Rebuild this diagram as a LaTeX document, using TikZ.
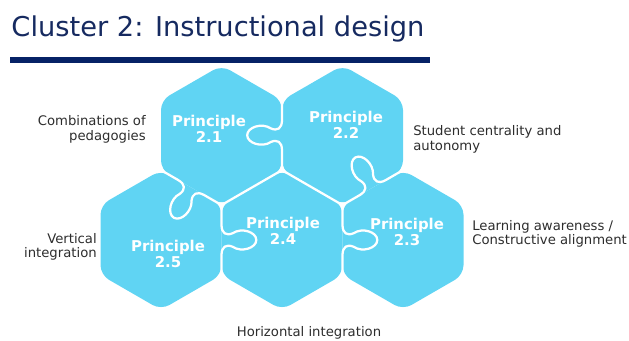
\documentclass[tikz,border=0pt]{standalone}
\usepackage{fontspec}
\setmainfont{DejaVu Sans}
\usetikzlibrary{calc}
\definecolor{titlenavy}{RGB}{22,42,96}
\definecolor{rulenavy}{RGB}{6,34,102}
\definecolor{puzzle}{RGB}{96,212,243}
\definecolor{labelgray}{RGB}{45,45,45}
\tikzset{
	piece/.style={fill=puzzle, rounded corners=0.24cm},
	seam/.style={draw=white, line width=1.6pt},
	princ/.style={text=white, font={\fontsize{10.6pt}{11.5pt}\selectfont\bfseries}, align=center, inner sep=0pt},
	lbl/.style={text=labelgray, font={\fontsize{9.4pt}{10.2pt}\selectfont}, inner sep=0pt},
}
\begin{document}
\begin{tikzpicture}[line join=round, line cap=round]
	\useasboundingbox (0,0) rectangle (15.725,8.525);
	\def\R{1.7465}
	% Khung tieu de
	\draw (0.28,7.6) node[anchor=base west, inner sep=0pt, text=titlenavy, font={\fontsize{19.4pt}{0pt}\selectfont}] (title) {Cluster 2: Instructional design};
	\draw[rulenavy, line width=4.2pt, line cap=butt] (0.25,7.03) -- (10.75,7.03);
	% Tam cac manh ghep
	\coordinate (c25) at (4.025,2.525);
	\coordinate (c24) at (7.05,2.525);
	\coordinate (c23) at (10.075,2.525);
	\coordinate (c21) at (5.5375,5.145);
	\coordinate (c22) at (8.5625,5.145);
	\foreach \c in {c21,c22,c25,c24,c23}
		\fill[piece, shift={(\c)}] (90:\R) -- (150:\R) -- (210:\R) -- (270:\R) -- (330:\R) -- (30:\R) -- cycle;
	% Duong ghep thang
	\draw[seam] ($(c21)+(270:\R)$) -- ($(c21)+(330:\R)$) -- ($(c22)+(270:\R)$);
	% Duong ghep co mau
	\foreach \g/\t/\a in {c22/c21/90, c21/c25/150, c23/c22/30, c25/c24/-90, c24/c23/-90}
	{
		\begin{scope}[shift={($(\g)!0.5!(\t)$)}, rotate=\a]
			\draw[seam] (-0.875,0) -- (-0.38,0)
				.. controls (-0.16,0) and (-0.1,0.12) .. (-0.17,0.28)
				.. controls (-0.32,0.5) and (-0.2,0.87) .. (0,0.87)
				.. controls (0.2,0.87) and (0.32,0.5) .. (0.17,0.28)
				.. controls (0.1,0.12) and (0.16,0) .. (0.38,0)
				-- (0.875,0);
		\end{scope}
	}
	\draw
	(5.225,5.3) node[princ] (p21) {Principle\\2.1}
	(8.65,5.41) node[princ] (p22) {Principle\\2.2}
	(10.175,2.725) node[princ] (p23) {Principle\\2.3}
	(7.075,2.75) node[princ] (p24) {Principle\\2.4}
	(4.2,2.175) node[princ] (p25) {Principle\\2.5}
	;
	\draw
	(3.65,5.29) node[lbl, anchor=east, align=right] (pedagogy) {Combinations of\\pedagogies}
	(10.325,5.04) node[lbl, anchor=west, align=left] (autonomy) {Student centrality and\\autonomy}
	(2.425,2.35) node[lbl, anchor=east, align=right] (vertical) {Vertical\\integration}
	(11.8,2.675) node[lbl, anchor=west, align=left] (alignment) {Learning awareness /\\Constructive alignment}
	(7.725,0.2) node[lbl] (horizontal) {Horizontal integration}
	;
\end{tikzpicture}
\end{document}
